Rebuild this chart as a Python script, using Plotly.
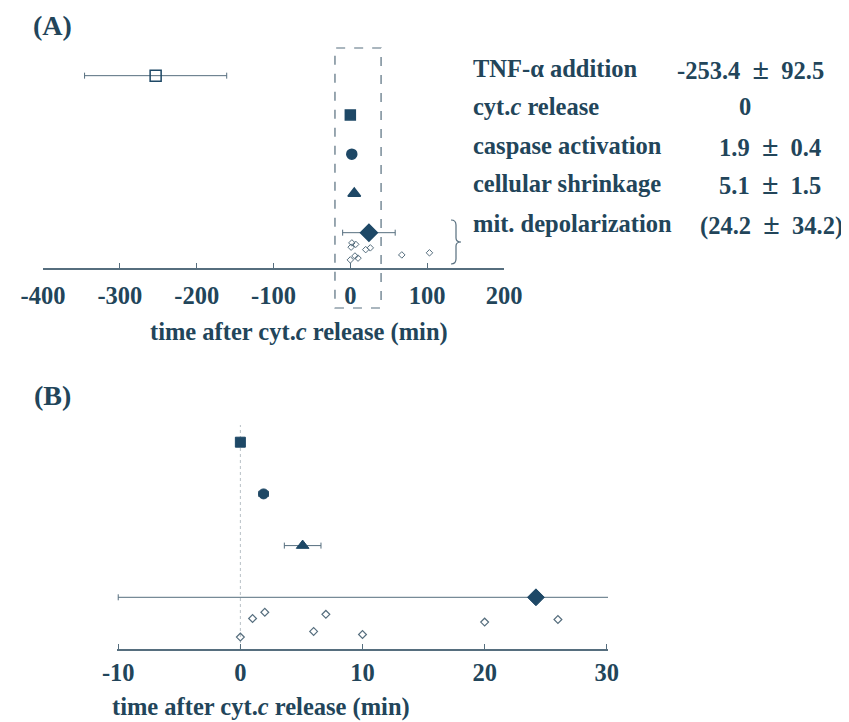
import plotly.graph_objects as go

# ---------------- data ----------------
events = ["TNF-α addition", "cyt.<i>c</i> release", "caspase activation",
          "cellular shrinkage", "mit. depolarization"]
value_text = ["-253.4 ± 92.5", "0", "1.9 ± 0.4", "5.1 ± 1.5", "(24.2 ± 34.2)"]
mean_time = [-253.4, 0.0, 1.9, 5.1, 24.2]
sd_time = [92.5, 0.0, 0.4, 1.5, 34.2]
depol_times = [0, 1, 2, 6, 7, 10, 20, 26, 67, 103]
depol_jitter = [0.23, 0.59, 0.71, 0.34, 0.67, 0.28, 0.52, 0.57, 0.37, 0.43]
ticks_a = [-400, -300, -200, -100, 0, 100, 200]
ticks_b = [-10, 0, 10, 20, 30]

# ---------------- geometry (screen pixels; page body has an 8px margin) ----------------
OFF = 8
FW, FH = 849 - OFF, 722 - OFF

def px(x):
    return (x - OFF) / FW

def py(y):
    return 1 - (y - OFF) / FH

# ---------------- style ----------------
FONT = "Liberation Serif"
TXT = "#22455a"
MK = "#1e4866"
LN = "#566e7e"
FS = 24.5
symbols = ["square-open", "square", "circle", "triangle-up", "diamond"]
sizes_a = [11, 10, 10, 11, 13]
sizes_b = [None, 10, 10, 11, 13]

rows_a = [4.9, 3.9, 2.9, 1.9, 0.9]
rows_b = [None, 4, 3, 2, 1]

fig = go.Figure()

# Panel A event markers
for i in range(len(events)):
    fig.add_trace(go.Scatter(
        x=[mean_time[i]], y=[rows_a[i]], mode="markers",
        marker=dict(symbol=symbols[i], size=sizes_a[i], color=MK,
                    line=dict(color=MK, width=1.5)),
        error_x=dict(type="data", array=[sd_time[i]], visible=sd_time[i] > 0,
                     color=LN, thickness=1, width=3),
        xaxis="x", yaxis="y", showlegend=False, hoverinfo="skip"))

# Panel A individual depolarization times
fig.add_trace(go.Scatter(
    x=depol_times, y=[j * 0.9 for j in depol_jitter], mode="markers",
    marker=dict(symbol="diamond-open", size=5, color=LN, line=dict(color=LN, width=1)),
    xaxis="x", yaxis="y", showlegend=False, hoverinfo="skip"))

# Panel B event markers
for i in range(1, len(events)):
    fig.add_trace(go.Scatter(
        x=[mean_time[i]], y=[rows_b[i]], mode="markers",
        marker=dict(symbol=symbols[i], size=sizes_b[i], color=MK,
                    line=dict(color=MK, width=1)),
        error_x=dict(type="data", array=[sd_time[i]], visible=sd_time[i] > 0,
                     color=LN, thickness=1, width=3),
        xaxis="x2", yaxis="y2", showlegend=False, hoverinfo="skip"))

fig.add_trace(go.Scatter(
    x=depol_times, y=depol_jitter, mode="markers",
    marker=dict(symbol="diamond-open", size=6, color=LN, line=dict(color=LN, width=1.2)),
    xaxis="x2", yaxis="y2", showlegend=False, hoverinfo="skip"))

axis_common = dict(showline=True, linecolor=LN, linewidth=1.5, ticks="inside",
                   ticklen=5, tickcolor=LN, showgrid=False, zeroline=False,
                   automargin=False,
                   tickfont=dict(family=FONT, size=FS, color=TXT, weight="bold"))

fig.update_layout(
    width=FW, height=FH,
    margin=dict(l=0, r=0, t=0, b=0, pad=0, autoexpand=False),
    paper_bgcolor="white", plot_bgcolor="white",
    xaxis=dict(domain=[px(43), px(504)], range=[-400, 200], anchor="y",
               tickvals=ticks_a, ticktext=[str(t) for t in ticks_a],
               ticklabelstandoff=5, **axis_common),
    yaxis=dict(domain=[py(268), py(40)], range=[0, (268 - 40) / 39.25],
               visible=False, anchor="x", automargin=False),
    xaxis2=dict(domain=[px(117), px(608)], range=[-10.1, 30.1], anchor="y2",
                tickvals=ticks_b, ticktext=[str(t) for t in ticks_b],
                ticklabelstandoff=1, **axis_common),
    yaxis2=dict(domain=[py(649), py(420)], range=[0, (649 - 420) / 51.7],
                visible=False, anchor="x2", automargin=False),
)

# dashed box in panel A (x from -20 to 40 min)
xa0, xa1 = 43, 504
def ax_px(v):
    return xa0 + (v + 400) / 600 * (xa1 - xa0)
fig.add_shape(type="rect", xref="paper", yref="paper",
              x0=px(ax_px(-20)), x1=px(ax_px(40)), y0=py(308), y1=py(48),
              line=dict(color=LN, width=1.2, dash="dash"))

# brace next to mit. depolarization
pts = "M {0},{1} Q {2},{1} {2},{3} L {2},{4} Q {2},{5} {6},{5} Q {2},{5} {2},{7} L {2},{8} Q {2},{9} {0},{9}"
path = pts.format(px(451), py(220), px(456), py(225), py(238), py(242), px(461),
                  py(246), py(259), py(264))
fig.add_shape(type="path", xref="paper", yref="paper", path=path,
              line=dict(color=LN, width=1.2))

# dotted zero line in panel B
fig.add_shape(type="line", xref="x2", yref="y2", x0=0, x1=0, y0=0,
              y1=(649 - 425) / 51.7, layer="below",
              line=dict(color="#b8c0c6", width=1, dash="dot"))

def ann(text, x, y, size=FS, xanchor="center"):
    fig.add_annotation(text=text, x=px(x), y=py(y), xref="paper", yref="paper",
                       showarrow=False, xanchor=xanchor, yanchor="middle",
                       font=dict(family=FONT, size=size, color=TXT, weight="bold"))

ann("(A)", 52, 25, size=28)
ann("(B)", 52, 396, size=28)
ann("time after cyt.<i>c</i> release (min)", 299, 332)
ann("time after cyt.<i>c</i> release (min)", 261, 707)

def fmt_value(s):
    # wider plus-minus sign, as in the reference typesetting
    return s.replace(" ± ", "\u00a0 <span style='font-size:30px'>±</span> \u00a0")

text_rows = [68, 107, 145, 183, 223]
value_cx = [750, 745, 770, 770, 771]
for i in range(len(events)):
    ann(events[i], 471, text_rows[i], xanchor="left")
    ann(fmt_value(value_text[i]), value_cx[i], text_rows[i])

fig.write_html("out.html")
